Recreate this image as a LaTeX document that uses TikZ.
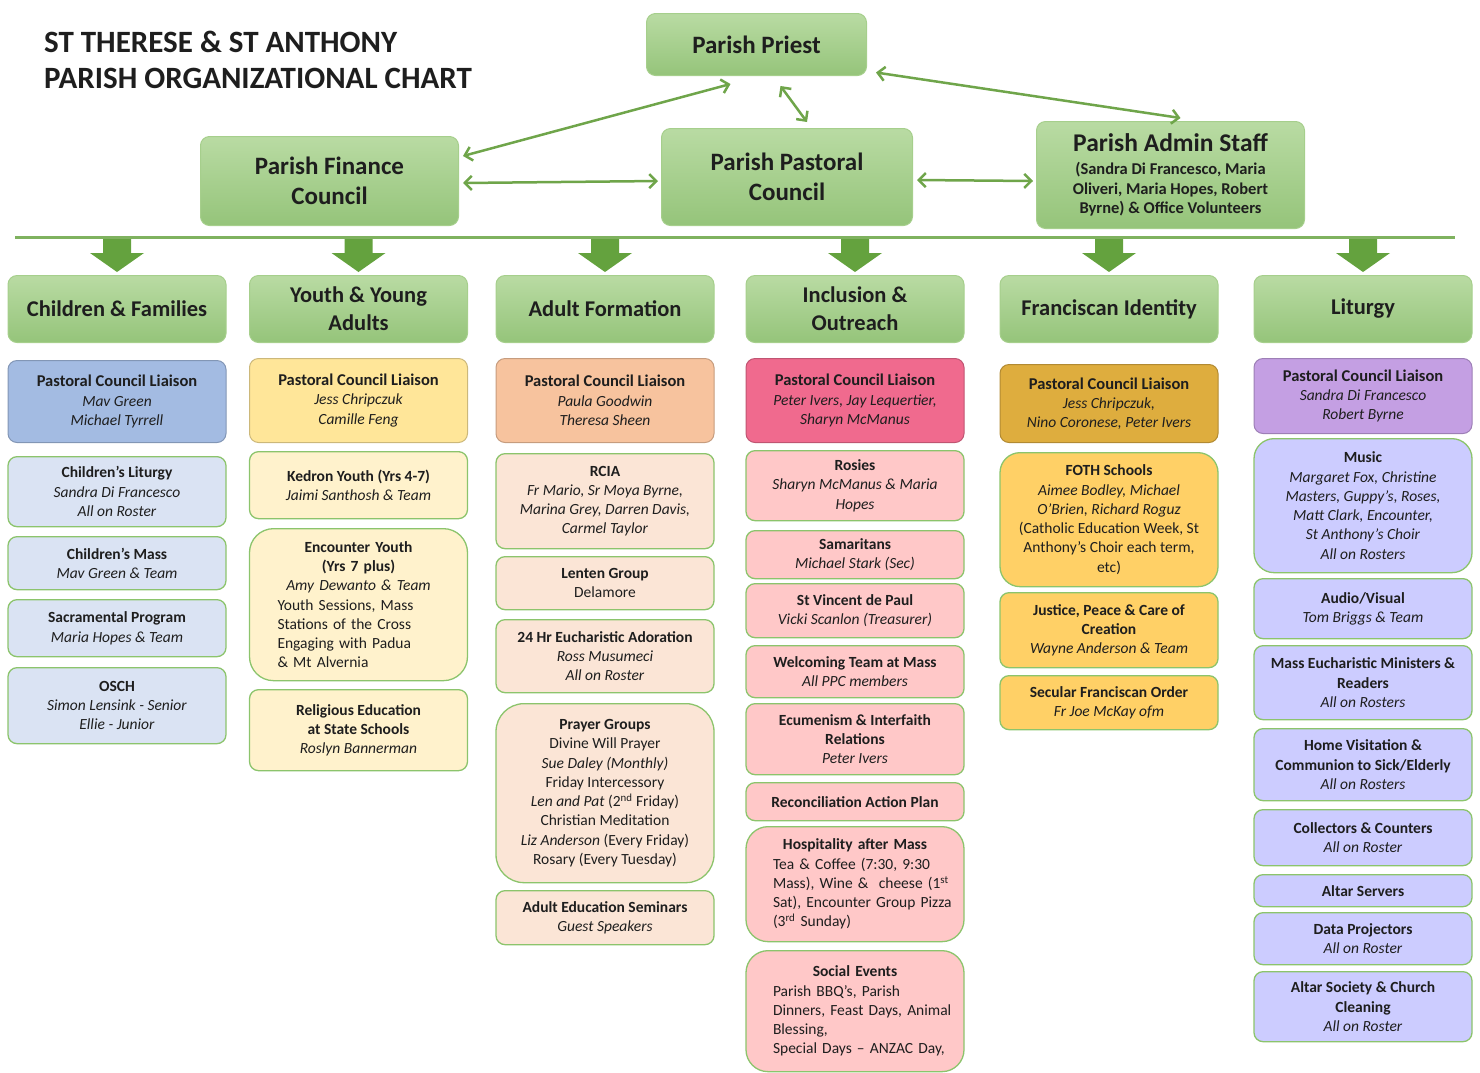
\documentclass[tikz,border=0pt]{standalone}
\usepackage{fontspec}
\setmainfont{Carlito}
\usetikzlibrary{arrows.meta,calc}
\definecolor{hdrtop}{HTML}{B9DBA3}
\definecolor{hdrbot}{HTML}{95C47A}
\definecolor{hdredge}{HTML}{A6CF8C}
\definecolor{conngreen}{HTML}{6FA54A}
\definecolor{blockgreen}{HTML}{64A23E}
\definecolor{linegreen}{HTML}{7FB25F}
\definecolor{bordergreen}{HTML}{8CC46C}
\definecolor{blueD}{HTML}{A3BBE2}
\definecolor{blueL}{HTML}{DAE3F3}
\definecolor{yelD}{HTML}{FFE699}
\definecolor{yelL}{HTML}{FFF2CC}
\definecolor{peaD}{HTML}{F7C39E}
\definecolor{peaL}{HTML}{FBE5D6}
\definecolor{pinD}{HTML}{F06A8E}
\definecolor{pinL}{HTML}{FFC8C8}
\definecolor{golD}{HTML}{DEAD3E}
\definecolor{golL}{HTML}{FFD066}
\definecolor{purD}{HTML}{C49FE3}
\definecolor{purL}{HTML}{CCCCFF}
\definecolor{txt}{HTML}{1E1E1E}
\newcommand{\fsbody}{\fontsize{15.5}{19.3}\selectfont}
\newcommand{\lt}[1]{{\fontsize{16.5}{19.3}\selectfont\bfseries #1}}
\begin{document}
\begin{tikzpicture}[x=1pt,y=-1pt,
  topbox/.style={rounded corners=9pt, top color=hdrtop, bottom color=hdrbot, draw=hdredge, line width=1pt,
    align=center, font=\fontsize{25}{30}\selectfont\bfseries, text=txt, anchor=north west},
  hdr/.style={rounded corners=9pt, top color=hdrtop, bottom color=hdrbot, draw=hdredge, line width=1pt,
    minimum width=218pt, minimum height=67pt, anchor=north, align=center,
    font=\fontsize{22.5}{28}\selectfont\bfseries, text=txt},
  item/.style={draw=bordergreen, line width=1.3pt, rounded corners=9pt, minimum width=218pt,
    anchor=north, align=center, font=\fsbody, text=txt, inner sep=2pt},
  liaison/.style={item, draw=#1!80!black, line width=1pt},
  conn/.style={conngreen, line width=2.5pt, {Straight Barb[length=7pt,width=14pt]}-{Straight Barb[length=7pt,width=14pt]}},
  blockarrow/.style={fill=blockgreen}
]
\useasboundingbox (0,0) rectangle (1480,1072);

% title
\node[anchor=north west, align=left, font=\fontsize{31}{36}\selectfont\bfseries, text=txt, inner sep=0pt] (title) at (44,31)
  {ST THERESE \& ST ANTHONY\\PARISH ORGANIZATIONAL CHART};

% top boxes
\node[topbox, minimum width=220pt, minimum height=62pt] (priest) at (646,13) {Parish Priest};
\node[topbox, minimum width=258pt, minimum height=89pt] (finance) at (200,136) {Parish Finance\\Council};
\node[topbox, minimum width=251pt, minimum height=97pt] (pastoral) at (661,128) {Parish Pastoral\\Council};
\node[topbox, minimum width=268pt, minimum height=107pt, font=\fontsize{16.5}{19.5}\selectfont\bfseries] (admin) at (1036,121)
  {{\fontsize{25.5}{26}\selectfont Parish Admin Staff}\\[4pt]
   (Sandra Di Francesco, Maria\\
   Oliveri, Maria Hopes, Robert\\
   Byrne) \& Office Volunteers};

% connectors between top boxes
\draw[conn] ($(finance.east)+(4,-25)$) -- ($(priest.south)+(-26,8)$);
\draw[conn] ($(priest.south)+(24,10)$) -- ($(pastoral.north)+(20,-6)$);
\draw[conn] ($(priest.east)+(9,28)$) -- ($(admin.north)+(10,-3)$);
\draw[conn] ($(finance.east)+(4,2)$) -- ($(pastoral.west)+(-3,4)$);
\draw[conn] ($(pastoral.east)+(4,3)$) -- ($(admin.west)+(-3,6)$);

% category headers
\node[hdr] (h1) at (117,275) {Children \& Families};
\node[hdr] (h2) at (358.5,275) {Youth \& Young\\Adults};
\node[hdr] (h3) at (605,275) {Adult Formation};
\node[hdr] (h4) at (855,275) {Inclusion \&\\Outreach};
\node[hdr] (h5) at (1109,275) {Franciscan Identity};
\node[hdr] (h6) at (1363,275) {Liturgy};

% horizontal bar and block arrows
\coordinate (hlL) at (15,237);
\coordinate (hlR) at (1455,237);
\foreach \h in {h1,h2,h3,h4,h5,h6}
  \fill[blockarrow] ($(\h.north)+(0,-3)$) -- ++(-27,-19) -- ++(13,0) -- ++(0,-16) -- ++(28,0) -- ++(0,16) -- ++(13,0) -- cycle;
\draw[linegreen, line width=3pt] (hlL) -- (hlR);

% column 1
\node[liaison=blueD, fill=blueD, minimum height=82pt] (c1a) at (117,360)
  {\lt{Pastoral Council Liaison}\\\textit{Mav Green}\\\textit{Michael Tyrrell}};
\node[item, fill=blueL, minimum height=70pt] (c1b) at (117,456)
  {\textbf{Children’s Liturgy}\\\textit{Sandra Di Francesco}\\\textit{All on Roster}};
\node[item, fill=blueL, minimum height=53pt] (c1c) at (117,536)
  {\textbf{Children’s Mass}\\\textit{Mav Green \& Team}};
\node[item, fill=blueL, minimum height=57pt] (c1d) at (117,599)
  {\textbf{Sacramental Program}\\\textit{Maria Hopes \& Team}};
\node[item, fill=blueL, minimum height=76pt] (c1e) at (117,667)
  {\textbf{OSCH}\\\textit{Simon Lensink - Senior}\\\textit{Ellie - Junior}};

% column 2
\node[liaison=yelD, fill=yelD, minimum height=84pt] (c2a) at (358.5,358)
  {\lt{Pastoral Council Liaison}\\\textit{Jess Chripczuk}\\\textit{Camille Feng}};
\node[item, fill=yelL, minimum height=67pt] (c2b) at (358.5,451)
  {\textbf{Kedron Youth (Yrs 4-7)}\\\textit{Jaimi Santhosh \& Team}};
\node[item, fill=yelL, minimum height=152pt, rounded corners=24pt, align=left, text width=190pt] (c2c) at (358.5,528)
  {{\centering\textbf{Encounter Youth}\\\textbf{(Yrs 7 plus)}\\\textit{Amy Dewanto \& Team}\par}
   \raggedright\leftskip=14pt Youth Sessions, Mass\\Stations of the Cross\\Engaging with Padua\\\& Mt Alvernia\par};
\node[item, fill=yelL, minimum height=81pt] (c2d) at (358.5,689)
  {\textbf{Religious Education}\\\textbf{at State Schools}\\\textit{Roslyn Bannerman}};

% column 3
\node[liaison=peaD, fill=peaD, minimum height=84pt] (c3a) at (605,358)
  {\lt{Pastoral Council Liaison}\\\textit{Paula Goodwin}\\\textit{Theresa Sheen}};
\node[item, fill=peaL, minimum height=95pt] (c3b) at (605,453)
  {\textbf{RCIA}\\\textit{Fr Mario, Sr Moya Byrne,}\\\textit{Marina Grey, Darren Davis,}\\\textit{Carmel Taylor}};
\node[item, fill=peaL, minimum height=53pt] (c3c) at (605,556)
  {\textbf{Lenten Group}\\Delamore};
\node[item, fill=peaL, minimum height=73pt] (c3d) at (605,619)
  {\textbf{24 Hr Eucharistic Adoration}\\\textit{Ross Musumeci}\\\textit{All on Roster}};
\node[item, fill=peaL, minimum height=179pt, rounded corners=28pt] (c3e) at (605,703)
  {\textbf{Prayer Groups}\\Divine Will Prayer\\\textit{Sue Daley (Monthly)}\\Friday Intercessory\\
   \textit{Len and Pat} (2\textsuperscript{nd} Friday)\\Christian Meditation\\\textit{Liz Anderson} (Every Friday)\\Rosary (Every Tuesday)};
\node[item, fill=peaL, minimum height=54pt] (c3f) at (605,890)
  {\textbf{Adult Education Seminars}\\\textit{Guest Speakers}};

% column 4
\node[liaison=pinD, fill=pinD, minimum height=84pt] (c4a) at (855,358)
  {\lt{Pastoral Council Liaison}\\\textit{Peter Ivers, Jay Lequertier,}\\\textit{Sharyn McManus}};
\node[item, fill=pinL, minimum height=70pt] (c4b) at (855,450)
  {\textbf{Rosies}\\\textit{Sharyn McManus \& Maria}\\\textit{Hopes}};
\node[item, fill=pinL, minimum height=48pt] (c4c) at (855,530)
  {\textbf{Samaritans}\\\textit{Michael Stark (Sec)}};
\node[item, fill=pinL, minimum height=54pt] (c4d) at (855,583)
  {\textbf{St Vincent de Paul}\\\textit{Vicki Scanlon (Treasurer)}};
\node[item, fill=pinL, minimum height=52pt] (c4e) at (855,645)
  {\textbf{Welcoming Team at Mass}\\\textit{All PPC members}};
\node[item, fill=pinL, minimum height=71pt] (c4f) at (855,703)
  {\textbf{Ecumenism \& Interfaith}\\\textbf{Relations}\\\textit{Peter Ivers}};
\node[item, fill=pinL, minimum height=38pt] (c4g) at (855,782)
  {\textbf{Reconciliation Action Plan}};
\node[item, fill=pinL, minimum height=115pt, rounded corners=22pt, align=left, text width=196pt] (c4h) at (855,826)
  {{\centering\textbf{Hospitality after Mass}\par}
   \raggedright\leftskip=16pt Tea \& Coffee (7:30, 9:30\\Mass), Wine \&\ \ cheese (1\textsuperscript{st}\\Sat), Encounter Group Pizza\\(3\textsuperscript{rd} Sunday)\par};
\node[item, fill=pinL, minimum height=121pt, rounded corners=22pt, align=left, text width=196pt] (c4i) at (855,950)
  {{\centering\textbf{Social Events}\par}
   \raggedright\leftskip=16pt Parish BBQ’s, Parish\\Dinners, Feast Days, Animal\\Blessing,\\Special Days – ANZAC Day,\par};

% column 5
\node[liaison=golD, fill=golD, minimum height=78pt] (c5a) at (1109,364)
  {\lt{Pastoral Council Liaison}\\\textit{Jess Chripczuk,}\\\textit{Nino Coronese, Peter Ivers}};
\node[item, fill=golL, minimum height=134pt, rounded corners=20pt] (c5b) at (1109,452)
  {\textbf{FOTH Schools}\\\textit{Aimee Bodley, Michael}\\\textit{O’Brien, Richard Roguz}\\(Catholic Education Week, St\\Anthony’s Choir each term,\\etc)};
\node[item, fill=golL, minimum height=75pt] (c5c) at (1109,592)
  {\textbf{Justice, Peace \& Care of}\\\textbf{Creation}\\\textit{Wayne Anderson \& Team}};
\node[item, fill=golL, minimum height=54pt] (c5d) at (1109,675)
  {\textbf{Secular Franciscan Order}\\\textit{Fr Joe McKay ofm}};

% column 6
\node[liaison=purD, fill=purD, minimum height=75pt] (c6a) at (1363,358)
  {\lt{Pastoral Council Liaison}\\\textit{Sandra Di Francesco}\\\textit{Robert Byrne}};
\node[item, fill=purL, minimum height=134pt, rounded corners=20pt] (c6b) at (1363,438)
  {\textbf{Music}\\\textit{Margaret Fox, Christine}\\\textit{Masters, Guppy’s, Roses,}\\\textit{Matt Clark, Encounter,}\\\textit{St Anthony’s Choir}\\\textit{All on Rosters}};
\node[item, fill=purL, minimum height=60pt] (c6c) at (1363,578)
  {\textbf{Audio/Visual}\\\textit{Tom Briggs \& Team}};
\node[item, fill=purL, minimum height=74pt] (c6d) at (1363,645)
  {\textbf{Mass Eucharistic Ministers \&}\\\textbf{Readers}\\\textit{All on Rosters}};
\node[item, fill=purL, minimum height=72pt] (c6e) at (1363,728)
  {\textbf{Home Visitation \&}\\\textbf{Communion to Sick/Elderly}\\\textit{All on Rosters}};
\node[item, fill=purL, minimum height=56pt] (c6f) at (1363,809)
  {\textbf{Collectors \& Counters}\\\textit{All on Roster}};
\node[item, fill=purL, minimum height=32pt] (c6g) at (1363,874)
  {\textbf{Altar Servers}};
\node[item, fill=purL, minimum height=52pt] (c6h) at (1363,912)
  {\textbf{Data Projectors}\\\textit{All on Roster}};
\node[item, fill=purL, minimum height=70pt] (c6i) at (1363,971)
  {\textbf{Altar Society \& Church}\\\textbf{Cleaning}\\\textit{All on Roster}};
\end{tikzpicture}
\end{document}
